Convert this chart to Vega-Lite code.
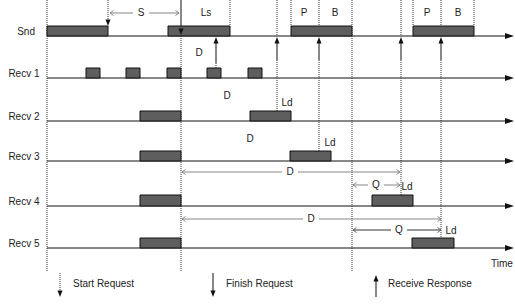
{
  "$schema": "https://vega.github.io/schema/vega-lite/v6.json",
  "width": 515,
  "height": 305,
  "padding": 0,
  "autosize": {"type": "none"},
  "background": "white",
  "config": {"view": {"stroke": null}, "text": {"font": "Liberation Sans", "fontSize": 10, "color": "#222"}},
  "datasets": {
    "lanes": [
      {"lane": "Snd", "y": 36, "lx": 35},
      {"lane": "Recv 1", "y": 78, "lx": 39.5},
      {"lane": "Recv 2", "y": 121, "lx": 39.5},
      {"lane": "Recv 3", "y": 161, "lx": 39.5},
      {"lane": "Recv 4", "y": 206, "lx": 39.5},
      {"lane": "Recv 5", "y": 248, "lx": 39.5}
    ],
    "bars": [
      {"lane": "Snd", "x": 47, "x2": 108, "y": 36, "y2": 26},
      {"lane": "Snd", "x": 168, "x2": 230, "y": 36, "y2": 26},
      {"lane": "Snd", "x": 291, "x2": 352, "y": 36, "y2": 26},
      {"lane": "Snd", "x": 413, "x2": 474, "y": 36, "y2": 26},
      {"lane": "Recv 1", "x": 86, "x2": 100, "y": 78, "y2": 68},
      {"lane": "Recv 1", "x": 126, "x2": 140, "y": 78, "y2": 68},
      {"lane": "Recv 1", "x": 167, "x2": 181, "y": 78, "y2": 68},
      {"lane": "Recv 1", "x": 207, "x2": 221, "y": 78, "y2": 68},
      {"lane": "Recv 1", "x": 248, "x2": 262, "y": 78, "y2": 68},
      {"lane": "Recv 2", "x": 140, "x2": 181, "y": 121, "y2": 111},
      {"lane": "Recv 2", "x": 250, "x2": 291, "y": 121, "y2": 111},
      {"lane": "Recv 3", "x": 140, "x2": 181, "y": 161, "y2": 151},
      {"lane": "Recv 3", "x": 290, "x2": 331, "y": 161, "y2": 151},
      {"lane": "Recv 4", "x": 140, "x2": 181, "y": 206, "y2": 195},
      {"lane": "Recv 4", "x": 372, "x2": 413, "y": 206, "y2": 195},
      {"lane": "Recv 5", "x": 140, "x2": 181, "y": 248, "y2": 238},
      {"lane": "Recv 5", "x": 412, "x2": 454, "y": 248, "y2": 238}
    ],
    "dotted": [
      {"x": 47, "y": 0, "y2": 272},
      {"x": 108, "y": 0, "y2": 21},
      {"x": 181, "y": 36, "y2": 272},
      {"x": 216, "y": 63, "y2": 68},
      {"x": 230, "y": 0, "y2": 26},
      {"x": 277, "y": 0, "y2": 36},
      {"x": 277, "y": 60, "y2": 111},
      {"x": 291, "y": 0, "y2": 26},
      {"x": 319, "y": 0, "y2": 36},
      {"x": 319, "y": 60, "y2": 151},
      {"x": 352, "y": 0, "y2": 272},
      {"x": 401, "y": 0, "y2": 36},
      {"x": 401, "y": 60, "y2": 195},
      {"x": 413, "y": 0, "y2": 26},
      {"x": 441, "y": 0, "y2": 36},
      {"x": 441, "y": 60, "y2": 238},
      {"x": 474, "y": 0, "y2": 26},
      {"x": 60, "y": 273, "y2": 291}
    ],
    "solid": [
      {"x": 181, "y": 0, "y2": 29},
      {"x": 216, "y": 43, "y2": 63},
      {"x": 277, "y": 43, "y2": 60},
      {"x": 319, "y": 43, "y2": 60},
      {"x": 401, "y": 43, "y2": 60},
      {"x": 441, "y": 43, "y2": 60},
      {"x": 213, "y": 273, "y2": 291},
      {"x": 376, "y": 281, "y2": 297}
    ],
    "headsDown": [
      {"x": 108, "y": 26},
      {"x": 181, "y": 35},
      {"x": 60, "y": 297},
      {"x": 213, "y": 297}
    ],
    "headsUp": [
      {"x": 216, "y": 37},
      {"x": 277, "y": 37},
      {"x": 319, "y": 37},
      {"x": 401, "y": 37},
      {"x": 441, "y": 37},
      {"x": 376, "y": 275}
    ],
    "spansGray": [
      {"label": "S", "y": 13, "x1": 110, "x2": 179, "tx": 141},
      {"label": "D", "y": 172, "x1": 182, "x2": 400, "tx": 290},
      {"label": "Q", "y": 185, "x1": 353, "x2": 400, "tx": 376},
      {"label": "D", "y": 219, "x1": 182, "x2": 441, "tx": 311}
    ],
    "spansDark": [
      {"label": "Q", "y": 230, "x1": 353, "x2": 441, "tx": 399}
    ],
    "notes": [
      {"t": "Ls", "x": 206, "y": 13},
      {"t": "P", "x": 304, "y": 13},
      {"t": "B", "x": 335, "y": 13},
      {"t": "P", "x": 427, "y": 13},
      {"t": "B", "x": 458, "y": 13},
      {"t": "D", "x": 199, "y": 53},
      {"t": "D", "x": 227, "y": 96},
      {"t": "D", "x": 250, "y": 139},
      {"t": "Ld", "x": 287, "y": 103},
      {"t": "Ld", "x": 330, "y": 143},
      {"t": "Ld", "x": 407, "y": 187},
      {"t": "Ld", "x": 451, "y": 231}
    ],
    "legend": [
      {"t": "Start Request", "x": 73, "y": 284},
      {"t": "Finish Request", "x": 226, "y": 284},
      {"t": "Receive Response", "x": 388, "y": 284},
      {"t": "Time", "x": 491, "y": 264}
    ]
  },
  "layer": [
    {
      "data": {"name": "lanes"},
      "mark": {"type": "rule", "color": "#111", "strokeWidth": 1},
      "encoding": {
        "x": {"datum": 47, "type": "quantitative", "scale": {"domain": [0, 515], "nice": false, "zero": false}, "axis": null},
        "x2": {"datum": 508},
        "y": {"field": "y", "type": "quantitative", "scale": {"domain": [0, 305], "reverse": true, "nice": false, "zero": false}, "axis": null}
      }
    },
    {
      "data": {"name": "lanes"},
      "mark": {"type": "point", "shape": "M0,0L-3,-1L-3,1Z", "filled": true, "color": "#111", "opacity": 1, "size": 36, "strokeWidth": 0},
      "encoding": {
        "x": {"datum": 514, "type": "quantitative", "scale": {"domain": [0, 515], "nice": false, "zero": false}, "axis": null},
        "y": {"field": "y", "type": "quantitative", "scale": {"domain": [0, 305], "reverse": true, "nice": false, "zero": false}, "axis": null}
      }
    },
    {
      "data": {"name": "lanes"},
      "mark": {"type": "text", "align": "right", "baseline": "middle", "dy": -4},
      "encoding": {
        "x": {"field": "lx", "type": "quantitative", "scale": {"domain": [0, 515], "nice": false, "zero": false}, "axis": null},
        "y": {"field": "y", "type": "quantitative", "scale": {"domain": [0, 305], "reverse": true, "nice": false, "zero": false}, "axis": null},
        "text": {"field": "lane"}
      }
    },
    {
      "data": {"name": "dotted"},
      "mark": {"type": "rule", "color": "#333", "strokeWidth": 1, "strokeDash": [1, 1]},
      "encoding": {
        "x": {"field": "x", "type": "quantitative", "scale": {"domain": [0, 515], "nice": false, "zero": false}, "axis": null},
        "y": {"field": "y", "type": "quantitative", "scale": {"domain": [0, 305], "reverse": true, "nice": false, "zero": false}, "axis": null},
        "y2": {"field": "y2"}
      }
    },
    {
      "data": {"name": "solid"},
      "mark": {"type": "rule", "color": "#111", "strokeWidth": 1},
      "encoding": {
        "x": {"field": "x", "type": "quantitative", "scale": {"domain": [0, 515], "nice": false, "zero": false}, "axis": null},
        "y": {"field": "y", "type": "quantitative", "scale": {"domain": [0, 305], "reverse": true, "nice": false, "zero": false}, "axis": null},
        "y2": {"field": "y2"}
      }
    },
    {
      "data": {"name": "bars"},
      "mark": {"type": "rect", "fill": "#5e5e5e", "stroke": "#111", "strokeWidth": 1},
      "encoding": {
        "x": {"field": "x", "type": "quantitative", "scale": {"domain": [0, 515], "nice": false, "zero": false}, "axis": null},
        "x2": {"field": "x2"},
        "y": {"field": "y", "type": "quantitative", "scale": {"domain": [0, 305], "reverse": true, "nice": false, "zero": false}, "axis": null},
        "y2": {"field": "y2"}
      }
    },
    {
      "data": {"name": "headsDown"},
      "mark": {"type": "point", "shape": "M0,0L-1,-2.6L1,-2.6Z", "filled": true, "color": "#111", "opacity": 1, "size": 25, "strokeWidth": 0},
      "encoding": {
        "x": {"field": "x", "type": "quantitative", "scale": {"domain": [0, 515], "nice": false, "zero": false}, "axis": null},
        "y": {"field": "y", "type": "quantitative", "scale": {"domain": [0, 305], "reverse": true, "nice": false, "zero": false}, "axis": null}
      }
    },
    {
      "data": {"name": "headsUp"},
      "mark": {"type": "point", "shape": "M0,0L-1,2.6L1,2.6Z", "filled": true, "color": "#111", "opacity": 1, "size": 25, "strokeWidth": 0},
      "encoding": {
        "x": {"field": "x", "type": "quantitative", "scale": {"domain": [0, 515], "nice": false, "zero": false}, "axis": null},
        "y": {"field": "y", "type": "quantitative", "scale": {"domain": [0, 305], "reverse": true, "nice": false, "zero": false}, "axis": null}
      }
    },
    {
      "data": {"name": "spansGray"},
      "mark": {"type": "rule", "color": "#888", "strokeWidth": 1.2},
      "encoding": {
        "x": {"field": "x1", "type": "quantitative", "scale": {"domain": [0, 515], "nice": false, "zero": false}, "axis": null},
        "x2": {"field": "x2"},
        "y": {"field": "y", "type": "quantitative", "scale": {"domain": [0, 305], "reverse": true, "nice": false, "zero": false}, "axis": null}
      }
    },
    {
      "data": {"name": "spansDark"},
      "mark": {"type": "rule", "color": "#333", "strokeWidth": 1},
      "encoding": {
        "x": {"field": "x1", "type": "quantitative", "scale": {"domain": [0, 515], "nice": false, "zero": false}, "axis": null},
        "x2": {"field": "x2"},
        "y": {"field": "y", "type": "quantitative", "scale": {"domain": [0, 305], "reverse": true, "nice": false, "zero": false}, "axis": null}
      }
    },
    {
      "data": {"name": "spansGray"},
      "mark": {"type": "point", "shape": "M1.4,-1L0,0L1.4,1", "filled": false, "color": "#888", "opacity": 1, "size": 25, "strokeWidth": 1},
      "encoding": {
        "x": {"field": "x1", "type": "quantitative", "scale": {"domain": [0, 515], "nice": false, "zero": false}, "axis": null},
        "y": {"field": "y", "type": "quantitative", "scale": {"domain": [0, 305], "reverse": true, "nice": false, "zero": false}, "axis": null}
      }
    },
    {
      "data": {"name": "spansGray"},
      "mark": {"type": "point", "shape": "M-1.4,-1L0,0L-1.4,1", "filled": false, "color": "#888", "opacity": 1, "size": 25, "strokeWidth": 1},
      "encoding": {
        "x": {"field": "x2", "type": "quantitative", "scale": {"domain": [0, 515], "nice": false, "zero": false}, "axis": null},
        "y": {"field": "y", "type": "quantitative", "scale": {"domain": [0, 305], "reverse": true, "nice": false, "zero": false}, "axis": null}
      }
    },
    {
      "data": {"name": "spansDark"},
      "mark": {"type": "point", "shape": "M1.4,-1L0,0L1.4,1", "filled": false, "color": "#666", "opacity": 1, "size": 25, "strokeWidth": 1},
      "encoding": {
        "x": {"field": "x1", "type": "quantitative", "scale": {"domain": [0, 515], "nice": false, "zero": false}, "axis": null},
        "y": {"field": "y", "type": "quantitative", "scale": {"domain": [0, 305], "reverse": true, "nice": false, "zero": false}, "axis": null}
      }
    },
    {
      "data": {"name": "spansDark"},
      "mark": {"type": "point", "shape": "M-1.4,-1L0,0L-1.4,1", "filled": false, "color": "#666", "opacity": 1, "size": 25, "strokeWidth": 1},
      "encoding": {
        "x": {"field": "x2", "type": "quantitative", "scale": {"domain": [0, 515], "nice": false, "zero": false}, "axis": null},
        "y": {"field": "y", "type": "quantitative", "scale": {"domain": [0, 305], "reverse": true, "nice": false, "zero": false}, "axis": null}
      }
    },
    {
      "data": {"name": "spansGray"},
      "mark": {"type": "point", "shape": "square", "filled": true, "color": "white", "opacity": 1, "size": 256, "strokeWidth": 0},
      "encoding": {
        "x": {"field": "tx", "type": "quantitative", "scale": {"domain": [0, 515], "nice": false, "zero": false}, "axis": null},
        "y": {"field": "y", "type": "quantitative", "scale": {"domain": [0, 305], "reverse": true, "nice": false, "zero": false}, "axis": null}
      }
    },
    {
      "data": {"name": "spansDark"},
      "mark": {"type": "point", "shape": "square", "filled": true, "color": "white", "opacity": 1, "size": 256, "strokeWidth": 0},
      "encoding": {
        "x": {"field": "tx", "type": "quantitative", "scale": {"domain": [0, 515], "nice": false, "zero": false}, "axis": null},
        "y": {"field": "y", "type": "quantitative", "scale": {"domain": [0, 305], "reverse": true, "nice": false, "zero": false}, "axis": null}
      }
    },
    {
      "data": {"name": "spansGray"},
      "mark": {"type": "text", "align": "center", "baseline": "middle"},
      "encoding": {
        "x": {"field": "tx", "type": "quantitative", "scale": {"domain": [0, 515], "nice": false, "zero": false}, "axis": null},
        "y": {"field": "y", "type": "quantitative", "scale": {"domain": [0, 305], "reverse": true, "nice": false, "zero": false}, "axis": null},
        "text": {"field": "label"}
      }
    },
    {
      "data": {"name": "spansDark"},
      "mark": {"type": "text", "align": "center", "baseline": "middle"},
      "encoding": {
        "x": {"field": "tx", "type": "quantitative", "scale": {"domain": [0, 515], "nice": false, "zero": false}, "axis": null},
        "y": {"field": "y", "type": "quantitative", "scale": {"domain": [0, 305], "reverse": true, "nice": false, "zero": false}, "axis": null},
        "text": {"field": "label"}
      }
    },
    {
      "data": {"name": "notes"},
      "mark": {"type": "text", "align": "center", "baseline": "middle"},
      "encoding": {
        "x": {"field": "x", "type": "quantitative", "scale": {"domain": [0, 515], "nice": false, "zero": false}, "axis": null},
        "y": {"field": "y", "type": "quantitative", "scale": {"domain": [0, 305], "reverse": true, "nice": false, "zero": false}, "axis": null},
        "text": {"field": "t"}
      }
    },
    {
      "data": {"name": "legend"},
      "mark": {"type": "text", "align": "left", "baseline": "middle"},
      "encoding": {
        "x": {"field": "x", "type": "quantitative", "scale": {"domain": [0, 515], "nice": false, "zero": false}, "axis": null},
        "y": {"field": "y", "type": "quantitative", "scale": {"domain": [0, 305], "reverse": true, "nice": false, "zero": false}, "axis": null},
        "text": {"field": "t"}
      }
    }
  ]
}
